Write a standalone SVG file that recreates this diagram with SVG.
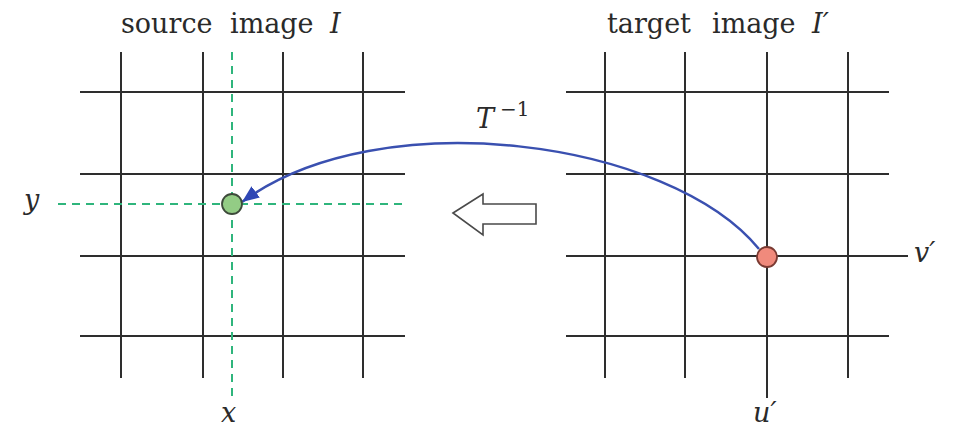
<svg xmlns="http://www.w3.org/2000/svg" width="956" height="428" viewBox="0 0 956 428">
  <style>
    .grid line { stroke: #2e2e2e; stroke-width: 2; }
    .guide { stroke: #2fb57c; stroke-width: 2; stroke-dasharray: 8 6; fill: none; }
    .txt { font-family: "DejaVu Serif", "Liberation Serif", serif; font-size: 27px; fill: #2a2a2a; }
    .math { font-family: "DejaVu Serif", "Liberation Serif", serif; font-style: italic; font-size: 27px; fill: #2a2a2a; }
    .sup { font-family: "DejaVu Serif", "Liberation Serif", serif; font-size: 20px; fill: #2a2a2a; }
  </style>
  <defs>
    <marker id="bluehead" markerUnits="userSpaceOnUse" markerWidth="18" markerHeight="14" refX="17" refY="7" orient="auto">
      <path d="M0,0 L17,7 L0,14 z" fill="#2f47b5"/>
    </marker>
  </defs>
  <rect width="956" height="428" fill="#ffffff"/>

  <g id="source-grid" class="grid">
    <line x1="121" y1="52" x2="121" y2="378"/>
    <line x1="203" y1="52" x2="203" y2="378"/>
    <line x1="283" y1="52" x2="283" y2="378"/>
    <line x1="363" y1="52" x2="363" y2="378"/>
    <line x1="80" y1="92" x2="405" y2="92"/>
    <line x1="80" y1="174" x2="405" y2="174"/>
    <line x1="80" y1="256" x2="405" y2="256"/>
    <line x1="80" y1="336" x2="405" y2="336"/>
  </g>

  <g id="source-guides">
    <line class="guide" x1="232" y1="52" x2="232" y2="400"/>
    <line class="guide" x1="58" y1="204" x2="405" y2="204"/>
  </g>

  <g id="target-grid" class="grid">
    <line x1="605" y1="52" x2="605" y2="378"/>
    <line x1="685" y1="52" x2="685" y2="378"/>
    <line x1="767" y1="52" x2="767" y2="398"/>
    <line x1="848" y1="52" x2="848" y2="378"/>
    <line x1="566" y1="92" x2="889" y2="92"/>
    <line x1="566" y1="174" x2="889" y2="174"/>
    <line x1="566" y1="256" x2="908" y2="256"/>
    <line x1="566" y1="336" x2="889" y2="336"/>
  </g>

  <g id="hollow-arrow">
    <polygon points="453,213 483,194 483,204 536,204 536,224 483,224 483,235" fill="#ffffff" stroke="#4a4a4a" stroke-width="1.6" stroke-linejoin="miter"/>
  </g>

  <g id="connectors">
    <path d="M759,249 C670,140 380,100 242,202" fill="none" stroke="#3a50b0" stroke-width="2.5" marker-end="url(#bluehead)"/>
  </g>

  <g id="source-point">
    <circle cx="232" cy="204" r="10" fill="#93cc85" stroke="#3d4a3a" stroke-width="1.8"/>
  </g>
  <g id="target-point">
    <circle cx="767" cy="257" r="10" fill="#f08a7c" stroke="#7a3a32" stroke-width="1.8"/>
  </g>

  <g id="labels">
    <text class="txt" x="121" y="33">source</text>
    <text class="txt" x="230" y="33">image</text>
    <text class="math" x="330" y="33">I</text>
    <text class="txt" x="607" y="33">target</text>
    <text class="txt" x="712" y="33">image</text>
    <text class="math" x="812" y="33">I′</text>
    <text class="math" x="476" y="128" font-size="31">T</text>
    <text class="sup" x="500" y="116">−1</text>
    <text class="math" x="24" y="209">y</text>
    <text class="math" x="221" y="422">x</text>
    <text class="math" x="753" y="422">u′</text>
    <text class="math" x="914" y="262">v′</text>
  </g>
</svg>
